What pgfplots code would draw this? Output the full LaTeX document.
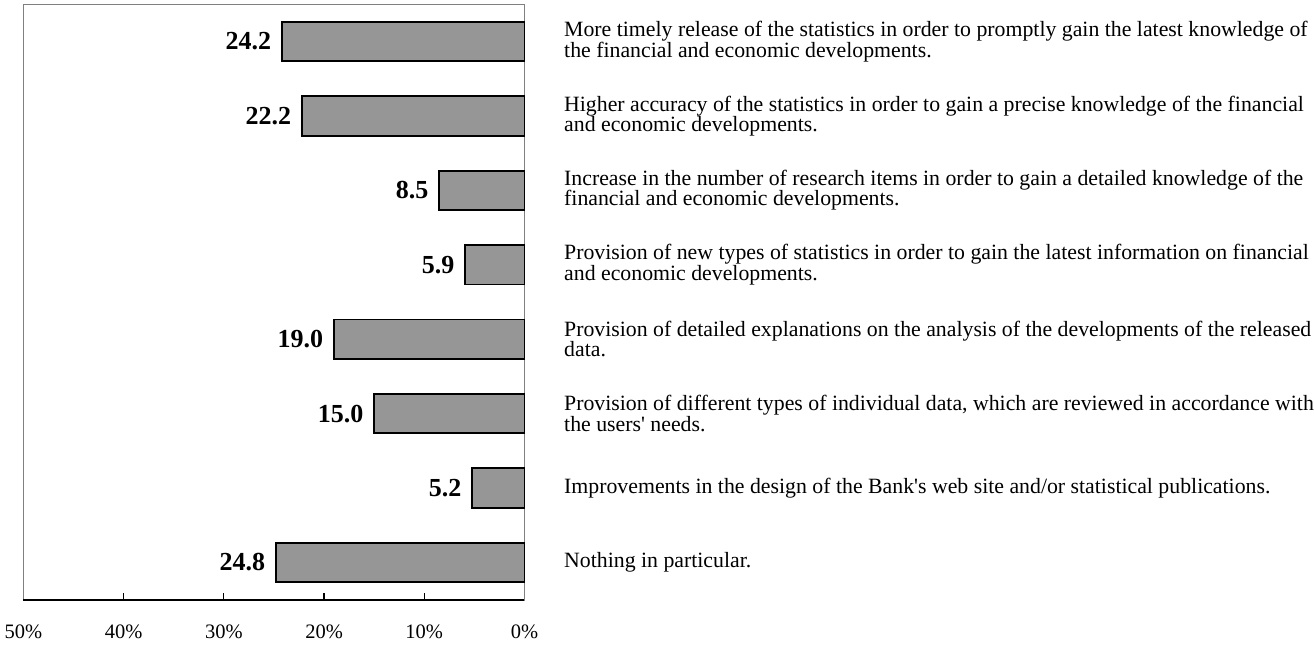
\documentclass[border=0pt]{standalone}
\usepackage{fontspec}
\setmainfont{Liberation Serif}
\usepackage{pgfplots}
\usepackage{pgfplotstable}
\pgfplotsset{compat=1.18}
\usetikzlibrary{calc}
\definecolor{barfill}{RGB}{150,150,150}
\definecolor{framegray}{RGB}{128,128,128}

% share of answers per item, top to bottom
\pgfplotstableread{
pos value
0 24.2
1 22.2
2 8.5
3 5.9
4 19.0
5 15.0
6 5.2
7 24.8
}\answers

\begin{document}
\begin{tikzpicture}
\begin{axis}[
  scale only axis,
  width=501.1pt, height=596pt,
  xbar, bar width=39.5pt,
  x dir=reverse, y dir=reverse,
  xmin=0, xmax=50, ymin=-0.504, ymax=7.504,
  xtick={0,10,20,30,40,50},
  xticklabels={0\%,10\%,20\%,30\%,40\%,50\%},
  xtick pos=left,
  tick align=inside,
  major tick length=7pt,
  ytick=\empty,
  axis line style={framegray, line width=1pt},
  x tick style={black, line width=1.3pt},
  xticklabel style={font=\fontsize{20.5}{20.5}\selectfont, anchor=north, inner sep=0pt, yshift=-25pt},
  /pgf/number format/assume math mode=true,
  nodes near coords={\pgfmathprintnumber[fixed,fixed zerofill,precision=1]{\pgfplotspointmeta}},
  nodes near coords style={font=\fontsize{26}{26}\selectfont\bfseries, anchor=east, inner sep=0pt, xshift=-10pt},
  clip=false,
]
\addplot[fill=barfill, draw=black, line width=1.8pt] table[x=value, y=pos]{\answers};
\draw[black, line width=2pt] (axis cs:50,7.504) -- (axis cs:0,7.504);
\coordinate (TL) at (axis cs:50,-0.504);
\coordinate (BL) at (axis cs:50,7.504);
\tikzset{itemtext/.style={anchor=west, align=left, inner sep=0pt, xshift=39.5pt, font=\fontsize{21.8}{20.5}\selectfont}}
\node[itemtext] at (axis cs:0,0) {More timely release of the statistics in order to promptly gain the latest knowledge of\\the financial and economic developments.};
\node[itemtext] at (axis cs:0,1) {Higher accuracy of the statistics in order to gain a precise knowledge of the financial\\and economic developments.};
\node[itemtext] at (axis cs:0,2) {Increase in the number of research items in order to gain a detailed knowledge of the\\financial and economic developments.};
\node[itemtext] at (axis cs:0,3) {Provision of new types of statistics in order to gain the latest information on financial\\and economic developments.};
\node[itemtext] at (axis cs:0,4) {Provision of detailed explanations on the analysis of the developments of the released\\data.};
\node[itemtext] at (axis cs:0,5) {Provision of different types of individual data, which are reviewed in accordance with\\the users\textquotesingle\ needs.};
\node[itemtext] at (axis cs:0,6) {Improvements in the design of the Bank\textquotesingle s web site and/or statistical publications.};
\node[itemtext] at (axis cs:0,7) {Nothing in particular.};
\end{axis}
\pgfresetboundingbox
\path ($(BL)+(-23.4pt,-44pt)$) rectangle ($(TL)+(1290.6pt,4pt)$);
\end{tikzpicture}
\end{document}
